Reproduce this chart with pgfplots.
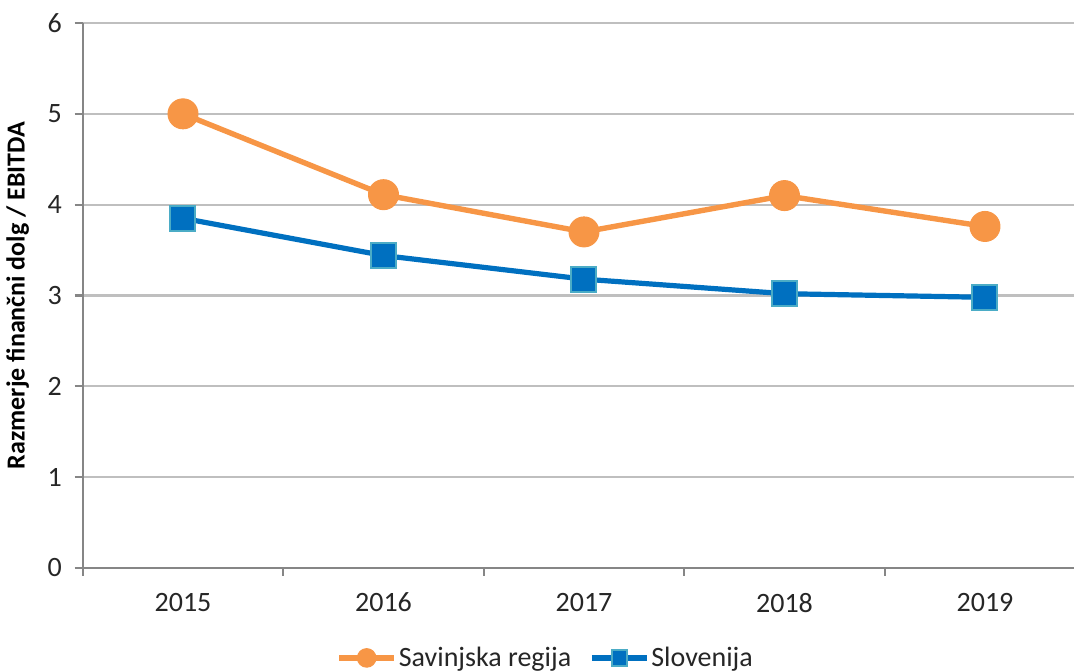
\documentclass[border=0pt]{standalone}
\usepackage{pgfplots}
\pgfplotsset{compat=1.18}
\usepackage{fontspec}
\setmainfont{Carlito}
\definecolor{orng}{HTML}{F79646}
\definecolor{blu}{HTML}{0070C0}
\definecolor{blub}{HTML}{4BACC6}
\definecolor{gridc}{HTML}{BFBFBF}
\definecolor{axc}{HTML}{868686}
\definecolor{txt}{HTML}{262626}
\begin{document}
\begin{tikzpicture}
\path[use as bounding box] (-41.375bp,-51.5bp) rectangle (495.625bp,284bp);
\begin{axis}[
  at={(0,0)}, anchor=south west,
  scale only axis,
  width=495.625bp, height=272.5bp,
  xmin=-0.5, xmax=4.444, ymin=0, ymax=6,
  axis x line*=bottom, axis y line*=left,
  axis line style={axc, line width=1.1bp, -},
  xtick={-0.5,0.5,1.5,2.5,3.5},
  xticklabels={},
  extra x ticks={0,1,2,3,4},
  extra x tick labels={2015,2016,2017,2018,2019},
  extra x tick style={major tick length=0pt, grid=none},
  ytick={0,1,2,3,4,5,6},
  tick style={draw=axc, line width=1.1bp},
  tick align=outside, major tick length=4bp,
  ymajorgrids, xmajorgrids=false, grid style={gridc, line width=1.1bp},
  /pgf/number format/assume math mode=true,
  tick label style={font=\fontsize{14bp}{16bp}\selectfont, text=txt},
  xticklabel style={yshift=-9bp},
  yticklabel style={xshift=-3bp},
  ylabel={Razmerje finančni dolg / EBITDA},
  ylabel style={font=\bfseries\fontsize{13bp}{15bp}\selectfont, at={(axis description cs:-0.0656,0.5)}, anchor=center, text=black},
  clip=false,
  legend columns=2,
  legend style={draw=none, fill=none, at={(axis description cs:0.467,-0.165)}, anchor=center,
    font=\fontsize{14bp}{16bp}\selectfont, text=txt, inner sep=0pt,
    /tikz/every even column/.append style={column sep=8bp},
    nodes={inner sep=1bp}},
  legend image code/.code={\draw[mark repeat=2, mark phase=2, every mark/.append style={scale=0.62}] plot coordinates {(0bp,0bp) (13.75bp,0bp) (27.5bp,0bp)};},
]
\addplot[orng, line width=2.7bp, mark=*, mark size=7.5bp, mark options={fill=orng, draw=orng, line width=0.5bp}]
  coordinates {(0,5.00) (1,4.11) (2,3.70) (3,4.10) (4,3.76)};
\addlegendentry{Savinjska regija}
\addplot[blu, line width=2.6bp, mark=square*, mark size=6.25bp, mark options={fill=blu, draw=blub, line width=1bp}]
  coordinates {(0,3.85) (1,3.44) (2,3.18) (3,3.02) (4,2.98)};
\addlegendentry{Slovenija}
\end{axis}
\end{tikzpicture}
\end{document}
